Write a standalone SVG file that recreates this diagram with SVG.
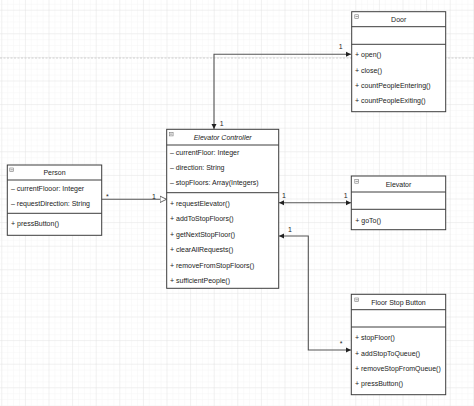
<svg xmlns="http://www.w3.org/2000/svg" width="474" height="406" viewBox="0 0 474 406">
<style>
text{font-family:"Liberation Sans",Arial,sans-serif;font-size:7px;fill:#222}
.t{text-anchor:middle}
.i{font-style:italic}
.box{fill:#fff;stroke:#3c3c3c;stroke-width:1}
.sep{stroke:#3c3c3c;stroke-width:1}
.ic{fill:#fff;stroke:#777;stroke-width:0.6}
.con{fill:none;stroke:#555;stroke-width:1.1}
.lbl{text-anchor:middle}
</style>
<defs>
<pattern id="minor" patternUnits="userSpaceOnUse" x="1.3" y="9.7" width="5.9" height="5.9">
<path d="M0,0 H5.9 M0,0 V5.9" stroke="#f1f1f1" stroke-width="0.6" fill="none"/>
</pattern>
<pattern id="major" patternUnits="userSpaceOnUse" x="1.3" y="9.7" width="23.6" height="23.6">
<path d="M0,0 H23.6 M0,0 V23.6" stroke="#e2e2e2" stroke-width="0.7" fill="none"/>
</pattern>
<marker id="arr" markerUnits="userSpaceOnUse" markerWidth="6" markerHeight="6" refX="5" refY="3" orient="auto-start-reverse">
<path d="M0,0.5 L5,3 L0,5.5 z" fill="#222"/>
</marker>
<marker id="tri" markerUnits="userSpaceOnUse" markerWidth="9" markerHeight="9" refX="7" refY="4" orient="auto">
<path d="M0.5,0.8 L7,4 L0.5,7.2 z" fill="#fff" stroke="#555" stroke-width="0.9"/>
</marker>
</defs>
<rect width="474" height="406" fill="#fff"/>
<rect width="474" height="406" fill="url(#minor)"/>
<rect width="474" height="406" fill="url(#major)"/>
<line x1="0" y1="58" x2="474" y2="58" stroke="#c4c4c4" stroke-width="0.8" stroke-dasharray="2,1.5"/>

<g id="connectors">
<path class="con" d="M351,54.3 H214 V129" marker-start="url(#arr)" marker-end="url(#arr)"/>
<path class="con" d="M101.7,199.3 H166.5" marker-end="url(#tri)"/>
<path class="con" d="M279,202.7 H351" marker-start="url(#arr)" marker-end="url(#arr)"/>
<path class="con" d="M279,236 H308.3 V350 H351" marker-start="url(#arr)" marker-end="url(#arr)"/>
<text class="lbl" x="340.7" y="49.2">1</text>
<text class="lbl" x="221.7" y="125.8">1</text>
<text class="lbl" x="107.3" y="199">*</text>
<text class="lbl" x="154" y="198.8">1</text>
<text class="lbl" x="284" y="198.2">1</text>
<text class="lbl" x="345.7" y="198.2">1</text>
<text class="lbl" x="290" y="231.8">1</text>
<text class="lbl" x="341" y="345.5">*</text>
</g>

<g id="door">
<rect class="box" x="351.7" y="11.7" width="94" height="100"/>
<line class="sep" x1="351.7" y1="26.7" x2="445.7" y2="26.7"/>
<line class="sep" x1="351.7" y1="44.3" x2="445.7" y2="44.3"/>
<rect class="ic" x="354.8" y="14.8" width="3.8" height="3.6"/>
<line x1="355.5" y1="16.6" x2="357.9" y2="16.6" stroke="#555" stroke-width="0.6"/>
<text class="t" x="398.7" y="21.8">Door</text>
<text x="355" y="56.8">+ open()</text>
<text x="355" y="72.8">+ close()</text>
<text x="355" y="88.2">+ countPeopleEntering()</text>
<text x="355" y="102.8">+ countPeopleExiting()</text>
</g>

<g id="elevator-controller">
<rect class="box" x="166.7" y="129.3" width="112" height="159"/>
<line class="sep" x1="166.7" y1="145" x2="278.7" y2="145"/>
<line class="sep" x1="166.7" y1="192.7" x2="278.7" y2="192.7"/>
<rect class="ic" x="169.3" y="132.3" width="3.8" height="3.6"/>
<line x1="170" y1="134.1" x2="172.4" y2="134.1" stroke="#555" stroke-width="0.6"/>
<text class="t i" x="222.7" y="139.8">Elevator Controller</text>
<text x="170" y="155.2">– currentFloor: Integer</text>
<text x="170" y="170.2">– direction: String</text>
<text x="170" y="185.2">– stopFloors: Array(Integers)</text>
<text x="170" y="205.8">+ requestElevator()</text>
<text x="170" y="221.2">+ addToStopFloors()</text>
<text x="170" y="236.5">+ getNextStopFloor()</text>
<text x="170" y="251.8">+ clearAllRequests()</text>
<text x="170" y="267.5">+ removeFromStopFloors()</text>
<text x="170" y="282.5">+ sufficientPeople()</text>
</g>

<g id="person">
<rect class="box" x="7.3" y="165" width="94.4" height="70.3"/>
<line class="sep" x1="7.3" y1="180" x2="101.7" y2="180"/>
<line class="sep" x1="7.3" y1="213.3" x2="101.7" y2="213.3"/>
<rect class="ic" x="9.8" y="168" width="3.8" height="3.6"/>
<line x1="10.5" y1="169.8" x2="12.9" y2="169.8" stroke="#555" stroke-width="0.6"/>
<text class="t" x="54.5" y="175.2">Person</text>
<text x="11" y="190.5">– currentFlooor: Integer</text>
<text x="11" y="205.8">– requestDirection: String</text>
<text x="11" y="225.8">+ pressButton()</text>
</g>

<g id="elevator">
<rect class="box" x="351.3" y="176" width="94.4" height="53.7"/>
<line class="sep" x1="351.3" y1="192" x2="445.7" y2="192"/>
<line class="sep" x1="351.3" y1="209.3" x2="445.7" y2="209.3"/>
<rect class="ic" x="354.8" y="179.6" width="3.8" height="3.6"/>
<line x1="355.5" y1="181.4" x2="357.9" y2="181.4" stroke="#555" stroke-width="0.6"/>
<text class="t" x="398.5" y="186.8">Elevator</text>
<text x="355.3" y="223.2">+ goTo()</text>
</g>

<g id="floor-stop-button">
<rect class="box" x="351.3" y="294.3" width="94.4" height="100.4"/>
<line class="sep" x1="351.3" y1="309.7" x2="445.7" y2="309.7"/>
<line class="sep" x1="351.3" y1="327" x2="445.7" y2="327"/>
<rect class="ic" x="354.8" y="298" width="3.8" height="3.6"/>
<line x1="355.5" y1="299.8" x2="357.9" y2="299.8" stroke="#555" stroke-width="0.6"/>
<text class="t" x="398.5" y="305.2">Floor Stop Button</text>
<text x="355" y="340.2">+ stopFloor()</text>
<text x="355" y="355.8">+ addStopToQueue()</text>
<text x="355" y="370.8">+ removeStopFromQueue()</text>
<text x="355" y="386.2">+ pressButton()</text>
</g>
</svg>
